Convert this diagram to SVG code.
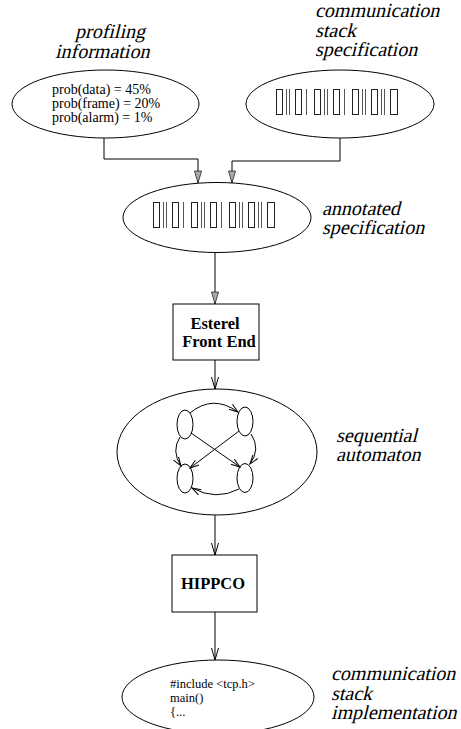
<svg xmlns="http://www.w3.org/2000/svg" xmlns:xlink="http://www.w3.org/1999/xlink" width="461" height="729" viewBox="0 0 461 729">
<style>
  .shape { fill: #fff; stroke: #000; stroke-width: 1; }
  .inner { fill: none; stroke: #000; stroke-width: 1; }
  .conn { fill: none; stroke: #000; stroke-width: 1; }
  .lbl { font-family: "Liberation Serif", serif; font-size: 20px; fill: #000; }
  .code { font-family: "Liberation Serif", serif; font-size: 14px; fill: #000; }
  .small { font-family: "Liberation Serif", serif; font-size: 12.5px; fill: #000; }
  .bold { font-family: "Liberation Serif", serif; font-weight: bold; font-size: 16.5px; fill: #000; text-anchor: middle; }
  .bc { fill: none; stroke: #222; stroke-width: 1; }
  .bar { stroke: #555; stroke-width: 1; }
</style>
<defs>
  <marker id="arrFill" markerUnits="userSpaceOnUse" markerWidth="14" markerHeight="10" viewBox="0 0 14 10" refX="13" refY="5" orient="auto">
    <path d="M1,1.5 L13,5 L1,8.5 z" fill="#aaa" stroke="#222" stroke-width="0.8"/>
  </marker>
  <marker id="arrOpen" markerUnits="userSpaceOnUse" markerWidth="14" markerHeight="10" viewBox="0 0 14 10" refX="13" refY="5" orient="auto">
    <path d="M1,1.5 L13,5 L1,8.5" fill="none" stroke="#000" stroke-width="1"/>
  </marker>
  <marker id="arrSmall" markerUnits="userSpaceOnUse" markerWidth="11" markerHeight="8" viewBox="0 0 11 8" refX="10" refY="4" orient="auto">
    <path d="M1,1 L10,4 L1,7" fill="none" stroke="#000" stroke-width="1"/>
  </marker>
  <g id="barcode">
    <rect class="bc" x="0.5" y="0.5" width="6" height="25"/>
    <line class="bar" x1="10.5" y1="0" x2="10.5" y2="26"/>
    <line class="bar" x1="13.5" y1="0" x2="13.5" y2="26"/>
    <rect class="bc" x="19.5" y="0.5" width="6" height="25"/>
    <line class="bar" x1="30.5" y1="0" x2="30.5" y2="26"/>
    <rect class="bc" x="38.5" y="0.5" width="6" height="25"/>
    <line class="bar" x1="48.5" y1="0" x2="48.5" y2="26"/>
    <line class="bar" x1="51.5" y1="0" x2="51.5" y2="26"/>
    <rect class="bc" x="57.5" y="0.5" width="6" height="25"/>
    <line class="bar" x1="68.5" y1="0" x2="68.5" y2="26"/>
    <rect class="bc" x="76.5" y="0.5" width="6" height="25"/>
    <line class="bar" x1="86.5" y1="0" x2="86.5" y2="26"/>
    <line class="bar" x1="89.5" y1="0" x2="89.5" y2="26"/>
    <rect class="bc" x="95.5" y="0.5" width="6" height="25"/>
    <line class="bar" x1="105.5" y1="0" x2="105.5" y2="26"/>
    <line class="bar" x1="108.5" y1="0" x2="108.5" y2="26"/>
    <rect class="bc" x="114.5" y="0.5" width="7" height="25"/>
  </g>
</defs>
<rect width="461" height="729" fill="#fff"/>

<g id="connectors">
  <path class="conn" d="M104,138 V159 H198 V183" marker-end="url(#arrFill)"/>
  <path class="conn" d="M340,138 V161 H232 V183" marker-end="url(#arrFill)"/>
  <path class="conn" d="M215,252 V304" marker-end="url(#arrFill)"/>
  <path class="conn" d="M215,360 V389" marker-end="url(#arrOpen)"/>
  <path class="conn" d="M215,515 V555" marker-end="url(#arrOpen)"/>
  <path class="conn" d="M215,612 V660" marker-end="url(#arrOpen)"/>
</g>

<g id="profiling">
  <ellipse class="shape" cx="105.5" cy="104" rx="93.5" ry="34"/>
  <text class="lbl" transform="translate(75,38) skewX(-14)">profiling</text>
  <text class="lbl" transform="translate(55,58) skewX(-14)">information</text>
  <text class="code" x="52" y="94">prob(data) = 45%</text>
  <text class="code" x="52" y="108">prob(frame) = 20%</text>
  <text class="code" x="52" y="122">prob(alarm) = 1%</text>
</g>

<g id="comm-spec">
  <ellipse class="shape" cx="340" cy="104" rx="94" ry="34"/>
  <use xlink:href="#barcode" x="276" y="89"/>
  <text class="lbl" transform="translate(315,17) skewX(-14)">communication</text>
  <text class="lbl" transform="translate(315,37) skewX(-14)">stack</text>
  <text class="lbl" transform="translate(315,56) skewX(-14)">specification</text>
</g>

<g id="annotated-spec">
  <ellipse class="shape" cx="217" cy="217.5" rx="94" ry="35"/>
  <use xlink:href="#barcode" x="153" y="202"/>
  <text class="lbl" transform="translate(322,215) skewX(-14)">annotated</text>
  <text class="lbl" transform="translate(322,234) skewX(-14)">specification</text>
</g>

<g id="esterel">
  <rect class="shape" x="173" y="304" width="86" height="56"/>
  <text class="bold" x="215" y="329">Esterel</text>
  <text class="bold" x="219" y="347">Front End</text>
</g>

<g id="automaton">
  <ellipse class="shape" cx="217" cy="452" rx="100" ry="63"/>
  <ellipse class="inner" cx="185" cy="424.5" rx="8" ry="14.5"/>
  <ellipse class="inner" cx="245" cy="421.5" rx="8" ry="14.5"/>
  <ellipse class="inner" cx="185" cy="478.5" rx="8" ry="14.5"/>
  <ellipse class="inner" cx="245" cy="478" rx="8" ry="14.5"/>
  <path class="inner" d="M190,413 Q213,394 238,412" marker-end="url(#arrSmall)"/>
  <path class="inner" d="M251,434 Q261,449 250,464" marker-end="url(#arrSmall)"/>
  <path class="inner" d="M180,437 Q171,451 181,466" marker-end="url(#arrSmall)"/>
  <path class="inner" d="M191,433 L240,467" marker-end="url(#arrSmall)"/>
  <path class="inner" d="M239,431 L190,468" marker-end="url(#arrSmall)"/>
  <path class="inner" d="M239,489 Q216,501 192,488" marker-end="url(#arrSmall)"/>
  <text class="lbl" transform="translate(336,442) skewX(-14)">sequential</text>
  <text class="lbl" transform="translate(336,461) skewX(-14)">automaton</text>
</g>

<g id="hippco">
  <rect class="shape" x="172" y="555" width="85" height="57"/>
  <text class="bold" x="213" y="589">HIPPCO</text>
</g>

<g id="comm-impl">
  <ellipse class="shape" cx="218" cy="697" rx="96" ry="37"/>
  <text class="small" x="170" y="688">#include &lt;tcp.h&gt;</text>
  <text class="small" x="170" y="702">main()</text>
  <text class="small" x="170" y="716">{...</text>
  <text class="lbl" transform="translate(331,680) skewX(-14)">communication</text>
  <text class="lbl" transform="translate(331,700) skewX(-14)">stack</text>
  <text class="lbl" transform="translate(331,719) skewX(-14)">implementation</text>
</g>
</svg>
